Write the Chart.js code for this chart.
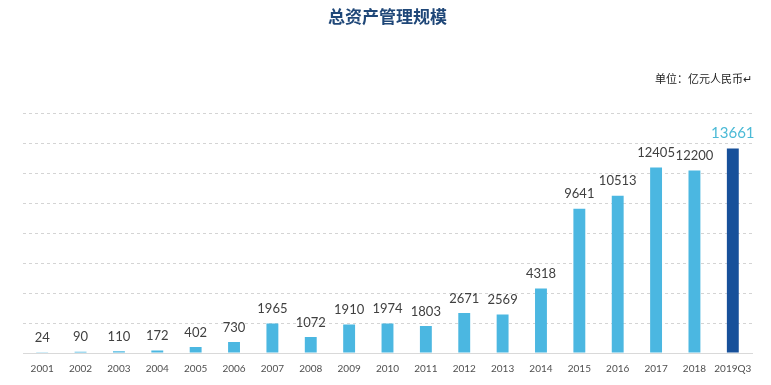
<!DOCTYPE html>
<html lang="zh-CN">
<head>
    <meta charset="UTF-8">
    <title>总资产管理规模</title>
    <script src="https://cdn.jsdelivr.net/npm/chart.js"></script>
    <style>
        html, body { margin: 0; padding: 0; background: #fff; }
        .chart-container { position: relative; width: 771px; height: 385px; }
    </style>
</head>
<body>
    <div class="chart-container">
        <canvas id="aumChart"></canvas>
    </div>

    <script>
        const years = ['2001', '2002', '2003', '2004', '2005', '2006', '2007', '2008', '2009', '2010',
                       '2011', '2012', '2013', '2014', '2015', '2016', '2017', '2018', '2019Q3'];
        const aum = [24, 90, 110, 172, 402, 730, 1965, 1072, 1910, 1974,
                     1803, 2671, 2569, 4318, 9641, 10513, 12405, 12200, 13661];
        const titleText = '总资产管理规模';
        const unitText = '单位：亿元人民币↵';

        const lightBlue = '#4bb7e1';
        const darkBlue = '#17509a';
        const barColors = aum.map((v, i) => i === aum.length - 1 ? darkBlue : lightBlue);

        // value labels above each bar
        const barLabels = {
            id: 'barLabels',
            afterDatasetsDraw(chart) {
                const ctx = chart.ctx;
                const meta = chart.getDatasetMeta(0);
                ctx.save();
                ctx.textAlign = 'center';
                ctx.textBaseline = 'bottom';
                meta.data.forEach((bar, i) => {
                    const last = i === aum.length - 1;
                    ctx.fillStyle = last ? '#4bbad6' : '#404040';
                    ctx.font = last ? '15px Lato, "Open Sans", sans-serif' : '13px Lato, "Open Sans", sans-serif';
                    ctx.fillText(aum[i], bar.x, bar.y - 8);
                });
                ctx.restore();
            }
        };

        new Chart(document.getElementById('aumChart'), {
            type: 'bar',
            data: {
                labels: years,
                datasets: [{
                    data: aum,
                    backgroundColor: barColors,
                    barPercentage: 0.62,
                    categoryPercentage: 0.5
                }]
            },
            options: {
                responsive: true,
                maintainAspectRatio: false,
                animation: false,
                layout: { padding: { left: 23, right: 19, bottom: 8 } },
                plugins: {
                    legend: { display: false },
                    tooltip: { enabled: false },
                    title: {
                        display: true,
                        text: titleText,
                        color: '#1f4778',
                        font: { family: '"Noto Sans CJK SC"', size: 17, weight: 'bold' },
                        padding: { top: 6, bottom: 0 }
                    },
                    subtitle: {
                        display: true,
                        text: unitText,
                        align: 'end',
                        color: '#222',
                        font: { family: '"Noto Sans CJK SC"', size: 11 },
                        padding: { top: 46, bottom: 28 }
                    }
                },
                scales: {
                    x: {
                        grid: { display: false },
                        border: { display: true, color: '#d9d9d9' },
                        ticks: {
                            color: '#505050',
                            font: { family: 'Lato, "Open Sans", sans-serif', size: 10 },
                            padding: 2,
                            maxRotation: 0,
                            autoSkip: false
                        }
                    },
                    y: {
                        min: 0,
                        max: 16000,
                        ticks: { display: false, stepSize: 2000 },
                        afterFit(axis) { axis.width = 0; },
                        border: { display: false, dash: [3, 3] },
                        grid: {
                            drawTicks: false,
                            color: c => c.tick.value === 0 ? 'rgba(0,0,0,0)' : '#d4d4d4'
                        }
                    }
                }
            },
            plugins: [barLabels]
        });
    </script>
</body>
</html>
